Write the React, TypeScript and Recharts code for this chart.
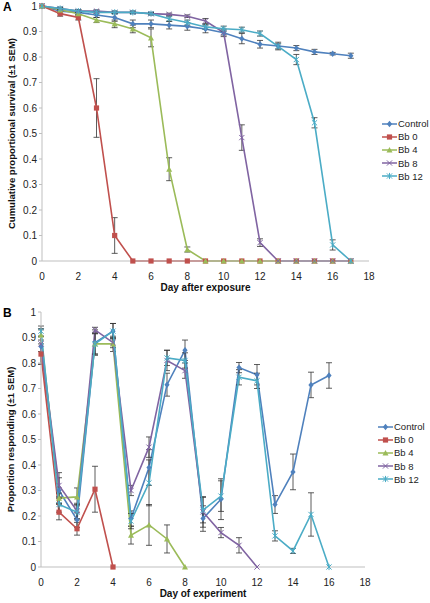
import React from 'react';
import { LineChart, Line, XAxis, YAxis, ErrorBar } from 'recharts';

const SERIES = ['Control', 'Bb 0', 'Bb 4', 'Bb 8', 'Bb 12'];
const COLORS = ['#4F81BD', '#C0504D', '#9BBB59', '#8064A2', '#4BACC6'];
const X_TICKS = [0, 2, 4, 6, 8, 10, 12, 14, 16, 18];
const Y_TICKS = [0, 0.1, 0.2, 0.3, 0.4, 0.5, 0.6, 0.7, 0.8, 0.9, 1];

// Panel A: survival, days 0..17
const survControl = [1, 0.98, 0.975, 0.965, 0.955, 0.93, 0.93, 0.925, 0.92, 0.91, 0.895, 0.872, 0.85, 0.843, 0.835, 0.82, 0.813, 0.805];
const survBb0 = [1, 0.97, 0.955, 0.6, 0.1, 0, 0, 0, 0, 0, 0, 0, 0, 0, 0, 0, 0, 0];
const survBb4 = [1, 0.985, 0.97, 0.945, 0.93, 0.91, 0.875, 0.36, 0.045, 0, 0, 0, 0, 0, 0, 0, 0, 0];
const survBb8 = [1, 0.99, 0.98, 0.98, 0.975, 0.975, 0.97, 0.967, 0.96, 0.941, 0.896, 0.484, 0.072, 0, 0, 0, 0, 0];
const survBb12 = [1, 0.99, 0.98, 0.975, 0.975, 0.975, 0.97, 0.95, 0.935, 0.918, 0.911, 0.907, 0.892, 0.842, 0.79, 0.542, 0.063, 0];

const survErrControl = [0, 0.01, 0.01, 0.01, 0.015, 0.015, 0.015, 0.015, 0.015, 0.015, 0.015, 0.02, 0.015, 0.015, 0.01, 0.01, 0.005, 0.01];
const survErrBb0 = [0, 0.01, 0.01, 0.115, 0.07, 0, 0, 0, 0, 0, 0, 0, 0, 0, 0, 0, 0, 0];
const survErrBb4 = [0, 0.005, 0.005, 0.01, 0.015, 0.015, 0.035, 0.045, 0.01, 0, 0, 0, 0, 0, 0, 0, 0, 0];
const survErrBb8 = [0, 0.005, 0.005, 0.005, 0.005, 0.005, 0.005, 0.005, 0.005, 0.01, 0.01, 0.05, 0.015, 0, 0, 0, 0, 0];
const survErrBb12 = [0, 0.005, 0.005, 0.005, 0.005, 0.005, 0.005, 0.01, 0.01, 0.01, 0.01, 0.01, 0.01, 0.01, 0.02, 0.02, 0.02, 0];

// Panel B: proportion responding
const respControl = [0.865, 0.3, 0.185, 0.88, 0.925, 0.19, 0.39, 0.715, 0.85, 0.19, 0.266, 0.782, 0.754, 0.245, 0.373, 0.714, 0.751];
const respBb0 = [0.835, 0.215, 0.15, 0.305, 0];
const respBb4 = [0.91, 0.27, 0.275, 0.875, 0.875, 0.125, 0.165, 0.11, 0];
const respBb8 = [0.875, 0.32, 0.22, 0.93, 0.88, 0.3, 0.47, 0.81, 0.77, 0.216, 0.135, 0.085, 0];
const respBb12 = [0.925, 0.245, 0.215, 0.875, 0.925, 0.18, 0.33, 0.82, 0.81, 0.223, 0.278, 0.744, 0.73, 0.122, 0.063, 0.206, 0];

const respErrControl = [0.07, 0.05, 0.03, 0.05, 0.03, 0.03, 0.07, 0.045, 0.04, 0.05, 0.08, 0.02, 0.04, 0.035, 0.07, 0.05, 0.05];
const respErrBb0 = [0.04, 0.03, 0.025, 0.09, 0];
const respErrBb4 = [0.02, 0.02, 0.035, 0.04, 0.03, 0.035, 0.08, 0.055, 0];
const respErrBb8 = [0.03, 0.05, 0.03, 0.01, 0.02, 0.02, 0.04, 0.04, 0.03, 0.06, 0.02, 0.03, 0];
const respErrBb12 = [0.02, 0.03, 0.03, 0.04, 0.03, 0.03, 0.09, 0.03, 0.03, 0.05, 0.06, 0.03, 0.03, 0.02, 0.01, 0.085, 0];

const buildRows = (vals: number[][], errs: number[][], n: number) =>
  Array.from({ length: n }, (_, i) => {
    const row: any = { day: i };
    vals.forEach((v, s) => {
      row['s' + s] = i < v.length ? v[i] : null;
      row['e' + s] = i < v.length ? errs[s][i] : null;
    });
    return row;
  });

const dataA = buildRows([survControl, survBb0, survBb4, survBb8, survBb12], [survErrControl, survErrBb0, survErrBb4, survErrBb8, survErrBb12], 18);
const dataB = buildRows([respControl, respBb0, respBb4, respBb8, respBb12], [respErrControl, respErrBb0, respErrBb4, respErrBb8, respErrBb12], 17);

const FONT = '"Liberation Sans", Arial, sans-serif';

const Marker = ({ cx, cy, idx, color }: any) => {
  if (cx == null || cy == null) return null;
  const r = 2.6;
  if (idx === 0)
    return <polygon points={`${cx},${cy - r - 0.6} ${cx + r},${cy} ${cx},${cy + r + 0.6} ${cx - r},${cy}`} fill={color} />;
  if (idx === 1) return <rect x={cx - r} y={cy - r} width={r * 2} height={r * 2} fill={color} />;
  if (idx === 2)
    return <polygon points={`${cx},${cy - r - 0.4} ${cx + r + 0.4},${cy + r} ${cx - r - 0.4},${cy + r}`} fill={color} />;
  if (idx === 3)
    return (
      <g stroke={color} strokeWidth={1}>
        <line x1={cx - r} y1={cy - r} x2={cx + r} y2={cy + r} />
        <line x1={cx - r} y1={cy + r} x2={cx + r} y2={cy - r} />
      </g>
    );
  return (
    <g stroke={color} strokeWidth={1}>
      <line x1={cx - r} y1={cy - r} x2={cx + r} y2={cy + r} />
      <line x1={cx - r} y1={cy + r} x2={cx + r} y2={cy - r} />
      <line x1={cx} y1={cy - r - 0.5} x2={cx} y2={cy + r + 0.5} />
    </g>
  );
};

const Legend = ({ top, left }: { top: number; left: number }) => (
  <div style={{ position: 'absolute', top, left, fontFamily: FONT, fontSize: 9.5, color: '#222' }}>
    {SERIES.map((name, i) => (
      <div key={name} style={{ display: 'flex', alignItems: 'center', height: 13.2 }}>
        <svg width={15} height={10} style={{ marginRight: 1 }}>
          <line x1={0} y1={5} x2={15} y2={5} stroke={COLORS[i]} strokeWidth={1.5} />
          <Marker cx={7.5} cy={5} idx={i} color={COLORS[i]} />
        </svg>
        <span>{name}</span>
      </div>
    ))}
  </div>
);

const Panel = ({ data, margin, height, xLabel, yLabel }: any) => (
  <LineChart width={430} height={height} data={data} margin={margin}>
    <XAxis
      dataKey="day"
      type="number"
      domain={[0, 18]}
      ticks={X_TICKS}
      height={30}
      axisLine={{ stroke: '#BFBFBF' }}
      tickLine={false}
      tick={{ fill: '#222', fontSize: 10, fontFamily: FONT }}
      tickMargin={6}
      label={{ value: xLabel, position: 'insideBottom', offset: 0, fill: '#111', fontSize: 10, fontWeight: 'bold', fontFamily: FONT }}
    />
    <YAxis
      type="number"
      domain={[0, 1]}
      ticks={Y_TICKS}
      width={42}
      axisLine={{ stroke: '#BFBFBF' }}
      tickLine={{ stroke: '#BFBFBF' }}
      tickSize={3}
      tick={{ fill: '#222', fontSize: 10, fontFamily: FONT }}
      tickFormatter={(v: number) => (v === 0 || v === 1 ? String(v) : v.toFixed(1))}
      label={{ value: yLabel, angle: -90, position: 'insideLeft', offset: 12, fill: '#111', fontSize: 9.5, fontWeight: 'bold', fontFamily: FONT, style: { textAnchor: 'middle' } }}
    />
    {SERIES.map((name, i) => (
      <Line
        key={name}
        name={name}
        dataKey={'s' + i}
        stroke={COLORS[i]}
        strokeWidth={1.6}
        isAnimationActive={false}
        dot={(p: any) => <Marker key={p.index} cx={p.cx} cy={p.cy} idx={i} color={COLORS[i]} />}
        activeDot={false}
      >
        <ErrorBar dataKey={'e' + i} width={3} stroke="#333" strokeWidth={0.8} direction="y" />
      </Line>
    ))}
  </LineChart>
);

export default function App() {
  return (
    <div style={{ position: 'absolute', left: 0, top: 0, width: 430, height: 603, background: '#fff', fontFamily: FONT }}>
      <div style={{ position: 'absolute', left: 0, top: 0 }}>
        <Panel
          data={dataA}
          height={300}
          margin={{ top: 6, right: 61, bottom: 9, left: 0 }}
          xLabel="Day after exposure"
          yLabel="Cumulative proportional survival (±1 SEM)"
        />
      </div>
      <div style={{ position: 'absolute', left: 0, top: 306 }}>
        <Panel
          data={dataB}
          height={297}
          margin={{ top: 6, right: 65, bottom: 6, left: -1 }}
          xLabel="Day of experiment"
          yLabel="Proportion responding (±1 SEM)"
        />
      </div>
      <div style={{ position: 'absolute', left: 3, top: 0, fontWeight: 'bold', fontSize: 12 }}>A</div>
      <div style={{ position: 'absolute', left: 3, top: 306, fontWeight: 'bold', fontSize: 12 }}>B</div>
      <Legend top={117} left={382} />
      <Legend top={420} left={378} />
    </div>
  );
}
